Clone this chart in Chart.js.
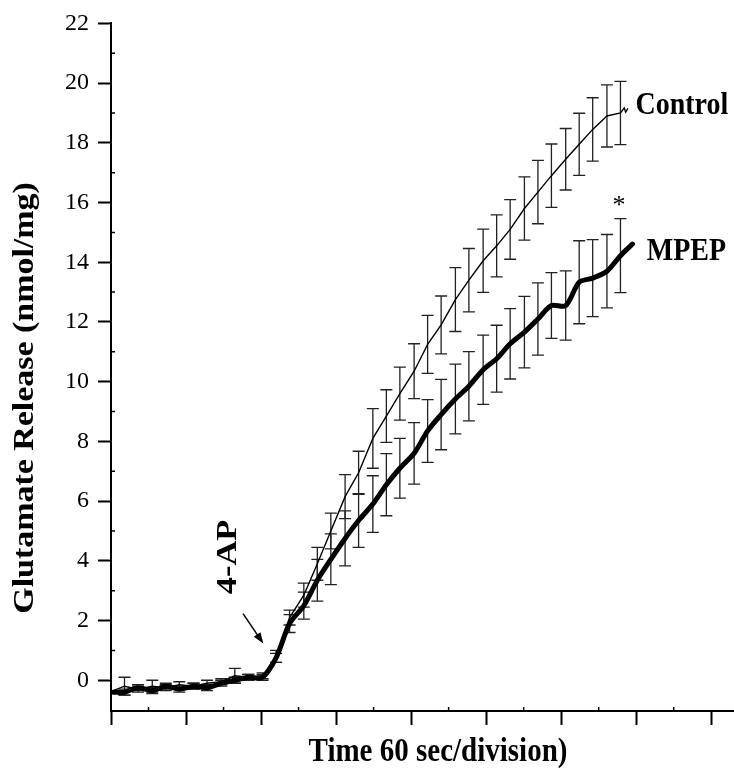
<!DOCTYPE html>
<html>
<head>
<meta charset="utf-8">
<script src="https://cdn.jsdelivr.net/npm/chart.js@4.4.0/dist/chart.umd.min.js"></script>
<style>
  html, body { margin: 0; padding: 0; background: #fff; }
  #wrap { width: 734px; height: 772px; }
</style>
</head>
<body>
<div id="wrap"><canvas id="myChart" width="734" height="772"></canvas></div>
<script>
const serif = "'Liberation Serif', 'Times New Roman', serif";

// time of each sample, in divisions (60 s per division)
const sampleTime = [0.18, 0.36, 0.55, 0.73, 0.91, 1.10, 1.28, 1.47, 1.65, 1.83, 2.02, 2.20, 2.38, 2.57, 2.75, 2.93, 3.12, 3.30, 3.49, 3.67, 3.85, 4.04, 4.22, 4.40, 4.59, 4.77, 4.96, 5.14, 5.32, 5.51, 5.69, 5.87, 6.06, 6.24, 6.42, 6.61, 6.79];

const controlMean = [-0.2, -0.3, -0.2, -0.25, -0.15, -0.2, -0.1, -0.05, 0.15, 0.1, 0.15, 0.8, 2.1, 2.85, 3.9, 5.0, 6.15, 6.95, 8.1, 8.85, 9.6, 10.35, 11.25, 11.9, 12.75, 13.4, 14.05, 14.55, 15.1, 15.8, 16.35, 16.9, 17.45, 17.95, 18.45, 18.9, 19.0];
const controlSem = [0.3, 0.1, 0.2, 0.1, 0.1, 0.1, 0.1, 0.1, 0.25, 0.1, 0.1, 0.2, 0.25, 0.4, 0.55, 0.6, 0.74, 0.72, 1.0, 0.88, 0.89, 0.92, 0.97, 0.97, 1.07, 1.06, 1.06, 1.04, 1.0, 1.06, 1.06, 1.06, 1.03, 1.04, 1.06, 1.04, 1.06];

const mpepMean = [-0.4, -0.25, -0.35, -0.2, -0.3, -0.2, -0.25, -0.1, 0.0, 0.1, 0.1, 0.75, 1.9, 2.5, 3.35, 4.05, 4.75, 5.35, 5.9, 6.55, 7.1, 7.6, 8.35, 8.9, 9.42, 9.85, 10.4, 10.77, 11.27, 11.66, 12.1, 12.55, 12.55, 13.33, 13.47, 13.7, 14.22];
const mpepSem = [0.1, 0.1, 0.1, 0.1, 0.1, 0.1, 0.1, 0.1, 0.1, 0.1, 0.1, 0.15, 0.3, 0.45, 0.7, 0.85, 0.92, 0.9, 0.95, 1.04, 1.0, 1.03, 1.05, 1.18, 1.17, 1.16, 1.16, 1.12, 1.18, 1.2, 1.21, 1.1, 1.16, 1.39, 1.29, 1.23, 1.24];

// trace points before the first / after the last sample
const controlLead = [[0.03, -0.35]];
const controlTail = [[6.84, 19.17], [6.86, 19.03], [6.89, 19.15]];
const mpepLead = [[0.03, -0.4]];
const mpepTail = [[6.95, 14.61]];

const xTicks = [0, 1, 2, 3, 4, 5, 6, 7, 8];
const yTicks = [0, 2, 4, 6, 8, 10, 12, 14, 16, 18, 20, 22];

function trace(lead, mean, tail) {
  return lead.map(p => ({x: p[0], y: p[1]}))
    .concat(sampleTime.map((t, i) => ({x: t, y: mean[i]})))
    .concat(tail.map(p => ({x: p[0], y: p[1]})));
}

function stretchedText(ctx, text, x, y, font, rot, sy, align, baseline) {
  ctx.save();
  ctx.translate(x, y);
  ctx.scale(1, sy);
  ctx.rotate(rot);
  ctx.font = font;
  ctx.fillStyle = '#000';
  ctx.textAlign = align || 'center';
  ctx.textBaseline = baseline || 'middle';
  ctx.fillText(text, 0, 0);
  ctx.restore();
}

const errorBars = {
  id: 'errorBars',
  beforeDatasetsDraw(chart) {
    const {ctx, scales: {x, y}} = chart;
    ctx.save();
    ctx.strokeStyle = '#222';
    ctx.lineWidth = 1.3;
    [[controlMean, controlSem], [mpepMean, mpepSem]].forEach(([mean, sem]) => {
      sampleTime.forEach((t, i) => {
        const px = x.getPixelForValue(t);
        const top = y.getPixelForValue(mean[i] + sem[i]);
        const bot = y.getPixelForValue(mean[i] - sem[i]);
        ctx.beginPath();
        ctx.moveTo(px, top); ctx.lineTo(px, bot);
        ctx.moveTo(px - 6, top); ctx.lineTo(px + 6, top);
        ctx.moveTo(px - 6, bot); ctx.lineTo(px + 6, bot);
        ctx.stroke();
      });
    });
    ctx.restore();
  }
};

const decorations = {
  id: 'decorations',
  afterDraw(chart) {
    const {ctx, chartArea, scales: {x, y}} = chart;
    ctx.save();
    // minor ticks
    ctx.strokeStyle = '#000';
    ctx.lineWidth = 1.5;
    ctx.beginPath();
    for (let v = 1; v <= 21; v += 2) {
      const py = y.getPixelForValue(v);
      ctx.moveTo(chartArea.left, py); ctx.lineTo(chartArea.left + 4, py);
    }
    for (let v = 0.5; v < x.max; v += 1) {
      const px = x.getPixelForValue(v);
      ctx.moveTo(px, chartArea.bottom); ctx.lineTo(px, chartArea.bottom - 4);
    }
    ctx.stroke();

    // arrow pointing to 4-AP addition
    const ax0 = x.getPixelForValue(1.76), ay0 = y.getPixelForValue(2.23);
    const ax1 = x.getPixelForValue(2.03), ay1 = y.getPixelForValue(1.23);
    const ang = Math.atan2(ay1 - ay0, ax1 - ax0);
    ctx.beginPath();
    ctx.moveTo(ax0, ay0); ctx.lineTo(ax1 - 6 * Math.cos(ang), ay1 - 6 * Math.sin(ang));
    ctx.stroke();
    ctx.beginPath();
    ctx.moveTo(ax1, ay1);
    ctx.lineTo(ax1 - 11 * Math.cos(ang) + 4 * Math.sin(ang), ay1 - 11 * Math.sin(ang) - 4 * Math.cos(ang));
    ctx.lineTo(ax1 - 11 * Math.cos(ang) - 4 * Math.sin(ang), ay1 - 11 * Math.sin(ang) + 4 * Math.cos(ang));
    ctx.closePath();
    ctx.fillStyle = '#000';
    ctx.fill();
    ctx.restore();

    const bold = 'bold 28px ' + serif;
    stretchedText(ctx, 'Control', x.getPixelForValue(6.99), y.getPixelForValue(19.23), bold, 0, 1.1, 'left');
    stretchedText(ctx, 'MPEP', x.getPixelForValue(7.14), y.getPixelForValue(14.33), bold, 0, 1.1, 'left');
    stretchedText(ctx, '*', x.getPixelForValue(6.77), y.getPixelForValue(15.65), '26px ' + serif, 0, 1, 'center', 'alphabetic');
    stretchedText(ctx, '4-AP', x.getPixelForValue(1.56), y.getPixelForValue(4.13), 'bold 30px ' + serif, -Math.PI / 2, 1.15);

    // axis titles
    stretchedText(ctx, 'Glutamate Release (nmol/mg)', 25, 398, 'bold 29.5px ' + serif, -Math.PI / 2, 1.15);
    stretchedText(ctx, 'Time 60 sec/division)', 438, 752, 'bold 29px ' + serif, 0, 1.15);
  }
};

const ctx = document.getElementById('myChart').getContext('2d');

const myChart = new Chart(ctx, {
  type: 'line',
  data: {
    datasets: [{
      label: 'Control',
      data: trace(controlLead, controlMean, controlTail),
      borderColor: '#000',
      borderWidth: 1.4,
      pointRadius: 0,
      tension: 0
    }, {
      label: 'MPEP',
      data: trace(mpepLead, mpepMean, mpepTail),
      borderColor: '#000',
      borderWidth: 5,
      borderCapStyle: 'round',
      borderJoinStyle: 'round',
      pointRadius: 0,
      tension: 0.3
    }]
  },
  options: {
    responsive: false,
    animation: false,
    events: [],
    layout: {
      padding: {top: 20, right: 1, bottom: 47, left: 0}
    },
    plugins: {
      legend: {display: false},
      tooltip: {enabled: false}
    },
    scales: {
      x: {
        type: 'linear',
        position: 'bottom',
        min: 0,
        max: 8.29,
        afterBuildTicks: (scale) => { scale.ticks = xTicks.map(v => ({value: v})); },
        ticks: {display: false},
        grid: {
          drawOnChartArea: false,
          drawTicks: true,
          tickLength: 14,
          tickWidth: 2,
          tickColor: '#000'
        },
        border: {display: true, color: '#000', width: 2}
      },
      y: {
        type: 'linear',
        min: -1.03,
        max: 22,
        afterBuildTicks: (scale) => { scale.ticks = yTicks.map(v => ({value: v})); },
        afterFit: (scale) => { scale.width = 111; },
        ticks: {
          color: '#000',
          padding: 9,
          font: {family: serif, size: 24}
        },
        grid: {
          drawOnChartArea: false,
          drawTicks: true,
          tickLength: 13,
          tickWidth: 2,
          tickColor: '#000'
        },
        border: {display: true, color: '#000', width: 2}
      }
    }
  },
  plugins: [errorBars, decorations]
});
</script>
</body>
</html>
